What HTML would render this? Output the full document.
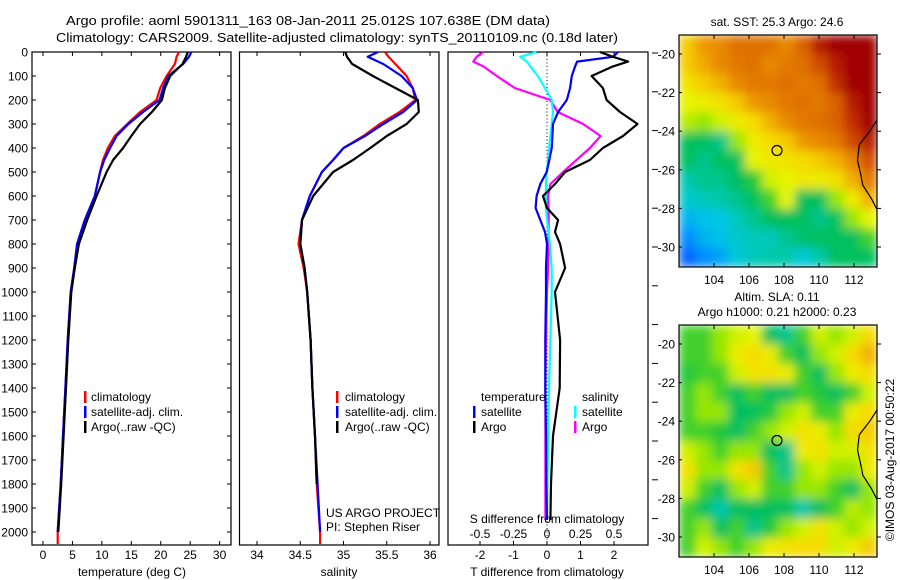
<!DOCTYPE html>
<html><head><meta charset="utf-8"><style>
body{margin:0;background:#fff}
svg{display:block;font-family:"Liberation Sans",Arial,sans-serif}
text{fill:#000}
</style></head><body>
<svg id="fig" width="900" height="580" viewBox="0 0 900 580" xmlns="http://www.w3.org/2000/svg">
<defs>
<filter id="blur" x="-5%" y="-5%" width="110%" height="110%"><feGaussianBlur stdDeviation="5" edgeMode="duplicate"/></filter>
<clipPath id="clip1"><rect x="679" y="35" width="198" height="232"/></clipPath>
<clipPath id="clip2"><rect x="679" y="325" width="198" height="232"/></clipPath>
</defs>
<rect width="900" height="580" fill="#fff"/>
<text x="308" y="25" font-size="13" text-anchor="middle" textLength="484" lengthAdjust="spacingAndGlyphs">Argo profile: aoml 5901311_163 08-Jan-2011 25.012S 107.638E (DM data)</text>
<text x="337" y="42" font-size="13" text-anchor="middle" textLength="562" lengthAdjust="spacingAndGlyphs">Climatology: CARS2009. Satellite-adjusted climatology: synTS_20110109.nc (0.18d later)</text>
<g id="g"></g>
</svg>
<script>
// ---- profile data ----
const depths = [0,20,50,100,150,200,250,300,350,400,450,500,600,700,800,900,1000,1200,1400,1600,1800,2000,2050];
const tempClim = [23.1,22.7,22.4,21.0,19.9,19.3,16.5,14.3,12.2,11.0,10.2,9.7,8.8,7.1,5.8,5.3,4.7,4.2,3.8,3.4,3.0,2.5,2.5];
const tempSat  = [25.2,24.8,23.8,21.3,20.4,19.8,17.0,14.5,12.5,11.4,10.4,9.7,8.8,7.1,5.8,5.3,4.7,4.2,3.8,3.4,3.0,2.5,null];
const tempArgo = [24.6,24.3,23.7,21.6,20.7,20.2,18.5,16.5,15.0,13.6,11.9,10.8,9.1,7.5,6.1,5.4,4.8,4.3,3.9,3.5,3.1,2.6,null];
const salClim = [35.48,35.52,35.6,35.73,35.8,35.83,35.65,35.42,35.23,35.0,34.88,34.75,34.61,34.52,34.48,34.54,34.58,34.62,34.64,34.67,34.69,34.73,34.73];
const salSat  = [35.4,35.28,35.46,35.67,35.8,35.85,35.69,35.46,35.25,35.0,34.88,34.75,34.61,34.52,34.5,34.55,34.58,34.62,34.64,34.67,34.7,34.73,null];
const salArgo = [35.02,35.04,35.1,35.34,35.6,35.86,35.87,35.73,35.5,35.31,35.11,34.88,34.65,34.52,34.5,34.55,34.58,34.62,34.64,34.67,34.69,null,null];
const diffDepths = [0,20,40,60,100,150,200,250,300,350,400,450,500,550,600,650,700,750,800,900,1000,1200,1400,1600,1800,1950];
const tdSat  = [2.12,1.97,0.9,0.84,0.74,0.69,0.59,0.33,0.18,0.16,0.14,0.07,-0.01,-0.2,-0.31,-0.34,-0.2,-0.06,0,-0.03,-0.03,-0.05,-0.05,-0.03,-0.02,0];
const tdArgo = [1.58,1.97,2.42,1.97,1.33,1.67,1.78,2.18,2.7,2.27,1.67,1.28,0.54,0.24,-0.12,0,0.33,0.24,0.39,0.54,0.24,0.39,0.38,0.18,0.12,0.1];
const sdArgo = [-0.475,-0.525,-0.55,-0.475,-0.375,-0.24,0.025,0.08,0.27,0.4,0.32,0.22,0.12,0.025,0.008,0.012,0.012,0.012,0.012,0.008,0,-0.008,-0.012,-0.012,-0.012,-0.012];
const sdSat  = [-0.078,-0.2,-0.15,-0.125,-0.068,-0.015,0.035,0.045,0.035,0.025,0.015,0.008,-0.003,-0.008,-0.008,-0.008,0,0.012,0.022,0.035,0.035,0.025,0.015,0.008,0.003,0];
const depthTicks = [0,100,200,300,400,500,600,700,800,900,1000,1100,1200,1300,1400,1500,1600,1700,1800,1900,2000];
const tempTicks = [0,5,10,15,20,25,30];
const salTicks = [34,34.5,35,35.5,36];
const tdTicks = [-2,-1,0,1,2];
const sdTicks = [-0.5,-0.25,0,0.25,0.5];
const sdTickLabels = ["-0.5","-0.25","0","0.25","0.5"];
// ---- map data (colour index 0..1, 12 x 12 cells, lat -19..-31, lon 102.2..113.4) ----
const sstGrid = [
[0.72,0.78,0.8,0.83,0.83,0.83,0.8,0.85,0.95,1,1,1],
[0.72,0.76,0.8,0.82,0.83,0.8,0.82,0.83,0.88,0.95,1,1],
[0.68,0.72,0.75,0.8,0.82,0.82,0.83,0.82,0.83,0.92,1,1],
[0.62,0.65,0.68,0.72,0.78,0.8,0.82,0.83,0.82,0.85,0.95,1],
[0.58,0.55,0.6,0.65,0.7,0.75,0.8,0.82,0.83,0.85,0.92,1],
[0.45,0.45,0.42,0.55,0.65,0.7,0.72,0.78,0.8,0.82,0.88,0.95],
[0.45,0.42,0.45,0.45,0.62,0.66,0.68,0.7,0.72,0.75,0.8,0.88],
[0.4,0.42,0.42,0.45,0.48,0.6,0.62,0.66,0.65,0.68,0.75,0.82],
[0.36,0.38,0.4,0.42,0.45,0.5,0.62,0.45,0.45,0.55,0.65,0.75],
[0.3,0.32,0.33,0.38,0.42,0.45,0.45,0.45,0.42,0.45,0.55,0.62],
[0.25,0.3,0.32,0.36,0.38,0.38,0.42,0.44,0.45,0.45,0.45,0.5],
[0.2,0.25,0.28,0.35,0.38,0.4,0.4,0.35,0.4,0.45,0.45,0.45]];
const slaGrid = [
[0.5,0.5,0.55,0.6,0.62,0.45,0.42,0.5,0.6,0.55,0.6,0.7],
[0.5,0.5,0.55,0.65,0.7,0.65,0.5,0.45,0.55,0.6,0.7,0.75],
[0.48,0.5,0.5,0.6,0.68,0.68,0.65,0.5,0.45,0.55,0.65,0.7],
[0.5,0.55,0.5,0.45,0.5,0.45,0.45,0.5,0.48,0.45,0.5,0.6],
[0.5,0.55,0.55,0.45,0.45,0.48,0.55,0.6,0.5,0.5,0.65,0.7],
[0.5,0.5,0.48,0.45,0.5,0.55,0.6,0.68,0.65,0.55,0.7,0.72],
[0.6,0.55,0.5,0.55,0.55,0.45,0.42,0.65,0.68,0.6,0.6,0.68],
[0.68,0.55,0.55,0.68,0.72,0.5,0.42,0.55,0.6,0.55,0.55,0.65],
[0.6,0.5,0.45,0.55,0.6,0.5,0.5,0.55,0.55,0.5,0.45,0.55],
[0.5,0.45,0.4,0.45,0.45,0.45,0.45,0.4,0.45,0.5,0.58,0.55],
[0.5,0.55,0.45,0.5,0.42,0.48,0.55,0.6,0.68,0.6,0.55,0.6],
[0.5,0.6,0.55,0.5,0.55,0.65,0.68,0.7,0.7,0.6,0.65,0.72]];
const lonTicks = [104,106,108,110,112];
const latTicks = [20,22,24,26,28,30];
const coastLon = [113.4,112.9,112.3,112.2,112.4,112.5,113.0,113.4];
const coastLat = [23.3,24.0,24.7,25.5,26.3,26.8,27.5,28.2];
const argoLon = 107.6, argoLat = 25.0;

const NS = "http://www.w3.org/2000/svg";
const G = document.getElementById('g');
function mk(tag, attrs, parent){ const e=document.createElementNS(NS,tag); for(const k in attrs) e.setAttribute(k,attrs[k]); (parent||G).appendChild(e); return e; }
function txt(s,x,y,size,anchor,parent){ const t=mk('text',{x:x,y:y,'font-size':size,'text-anchor':anchor||'start'},parent); t.textContent=s; return t; }

const Y0=52, PXM=0.24, BOT=545, TOP=52;
const yD = d => Y0 + d*PXM;
const xT = v => 43 + v*5.887;
const xS = v => 257 + (v-34)*86.5;
const xTD = v => 547 + v*33.5;
const xSD = v => 547 + v*134;

function panel(name,x1,x2){
  const r = mk('rect',{x:x1,y:TOP,width:x2-x1,height:BOT-TOP,fill:'none',stroke:'#000','stroke-width':1.2});
  
  
}
function line(name,xs,ds,vals,fx,col){
  let d='';
  vals.forEach((v,i)=>{ if(v===null) return; d += (d?'L':'M') + fx(v).toFixed(1)+','+yD(ds[i]).toFixed(1); });
  const p = mk('path',{d:d,fill:'none',stroke:col,'stroke-width':2.2,'stroke-linejoin':'round'});
  
  
}
panel('temperature-panel',32,231);
panel('salinity-panel',239.5,439);
panel('difference-panel',448,648);

depthTicks.forEach(d=>{
  const y=yD(d);
  mk('line',{x1:32,y1:y,x2:36,y2:y,stroke:'#000'});
  mk('line',{x1:227,y1:y,x2:231,y2:y,stroke:'#000'});
  const t=txt(String(d),28,y+4.5,12,'end');
  
  
});
for(let i=0;i<13;i++){ const y=53+i*38.8; if(y<BOT) mk('line',{x1:652,y1:y,x2:658,y2:y,stroke:'#000'}); }

function xticks(ticks,labels,fx,ylab){
  ticks.forEach((v,i)=>{
    const x=fx(v);
    mk('line',{x1:x,y1:TOP,x2:x,y2:TOP+4,stroke:'#000'});
    mk('line',{x1:x,y1:BOT,x2:x,y2:BOT-4,stroke:'#000'});
    const t=txt(labels[i],x,ylab,12,'middle');
    
    
  });
}
xticks(tempTicks,tempTicks.map(String),xT,559);
xticks(salTicks,salTicks.map(String),xS,559);
xticks(tdTicks,tdTicks.map(String),xTD,559);
sdTicks.forEach((v,i)=>{ const t=txt(sdTickLabels[i],xSD(v),538,12,'middle');   });

mk('line',{x1:547,y1:TOP,x2:547,y2:BOT,stroke:'#000','stroke-dasharray':'1,2.5'});

line('temp-climatology-line',0,depths,tempClim,xT,'#f00');
line('temp-satellite-line',0,depths,tempSat,xT,'#00f');
line('temp-argo-line',0,depths,tempArgo,xT,'#000');
line('sal-climatology-line',0,depths,salClim,xS,'#f00');
line('sal-satellite-line',0,depths,salSat,xS,'#00f');
line('sal-argo-line',0,depths,salArgo,xS,'#000');
line('s-diff-argo-line',0,diffDepths,sdArgo,xSD,'#f0f');
line('s-diff-satellite-line',0,diffDepths,sdSat,xSD,'#0ff');
line('t-diff-satellite-line',0,diffDepths,tdSat,xTD,'#00f');
line('t-diff-argo-line',0,diffDepths,tdArgo,xTD,'#000');

[['temperature (deg C)',132],['salinity',339],['T difference from climatology',547]].forEach(a=>{
  const t=txt(a[0],a[1],576,12,'middle');  
});
const sdt=txt('S difference from climatology',547,523,12,'middle');
 

function legend(bx,tx,y,col,label){
  mk('rect',{x:bx-1,y:y-10,width:2.5,height:12,fill:col});
  const t=txt(label,tx,y,12,'start');
  
  
}
[[401,'#f00','climatology'],[416,'#00f','satellite-adj. clim.'],[431,'#000','Argo(..raw -QC)']].forEach(r=>{
  legend(85,91,r[0],r[1],r[2]); legend(337,345,r[0],r[1],r[2]);
});
txt('temperature',481,401,12,'start');
txt('salinity',582,401,12,'start');
legend(474,481,416,'#00f','satellite'); legend(474,481,431,'#000','Argo');
legend(575,582,416,'#0ff','satellite'); legend(575,582,431,'#f0f','Argo');
const us=txt('US ARGO PROJECT',326,517,12,'start');  
const pi=txt('PI: Stephen Riser',326,531,12,'start');  

const colStops=[[0,[0,0,160]],[0.15,[0,60,255]],[0.25,[0,140,255]],[0.33,[0,200,230]],[0.4,[0,200,170]],[0.46,[0,190,80]],[0.55,[150,230,0]],[0.62,[230,245,0]],[0.7,[245,220,0]],[0.77,[240,160,0]],[0.86,[215,90,0]],[0.93,[190,40,0]],[1,[160,0,0]]];
function cmap(v){
  for(let i=1;i<colStops.length;i++){ if(v<=colStops[i][0]){ const a=colStops[i-1],b=colStops[i],f=(v-a[0])/(b[0]-a[0]); const c=a[1].map((q,k)=>Math.round(q+(b[1][k]-q)*f)); return 'rgb('+c.join(',')+')'; } }
  return 'rgb(160,0,0)';
}
function drawMap(name,grid,top,titles,clipId){
  const L=679,R=877,T=top,B=top+232;
  const lonX = lon => 714 + (lon-104)*17.5;
  const latY = lat => T+19 + (lat-20)*19.3;
  const g=mk('g',{});
  
  
  const clipG=mk('g',{'clip-path':'url(#'+clipId+')'},g);
  const cells=mk('g',{filter:'url(#blur)'},clipG);
  const nr=grid.length, nc=grid[0].length, cw=(R-L)/nc, ch=(B-T)/nr;
  grid.forEach((row,i)=>row.forEach((v,j)=>{
    const c=mk('rect',{x:(L+j*cw).toFixed(2),y:(T+i*ch).toFixed(2),width:(cw+0.6).toFixed(2),height:(ch+0.6).toFixed(2),fill:cmap(v)},cells);
    
    
  }));
  let d=''; coastLon.forEach((lo,i)=>{ d+=(i?'L':'M')+lonX(lo).toFixed(1)+','+latY(coastLat[i]).toFixed(1); });
  mk('path',{d:d,fill:'none',stroke:'#000','stroke-width':1.2},clipG);
  mk('rect',{x:L,y:T,width:R-L,height:B-T,fill:'none',stroke:'#000','stroke-width':1.2},g);
  lonTicks.forEach(lo=>{ const x=lonX(lo); mk('line',{x1:x,y1:T,x2:x,y2:T+4,stroke:'#000'},g); mk('line',{x1:x,y1:B,x2:x,y2:B-4,stroke:'#000'},g); txt(String(lo),x,B+17,12,'middle',g); });
  latTicks.forEach(la=>{ const y=latY(la); mk('line',{x1:R,y1:y,x2:R+4,y2:y,stroke:'#000'},g); mk('line',{x1:L,y1:y,x2:L+3,y2:y,stroke:'#000'},g); txt('-'+la,675,y+4.5,12,'end',g); });
  const circ=mk('circle',{cx:lonX(argoLon),cy:latY(argoLat),r:5,fill:'none',stroke:'#000','stroke-width':1.2},g);
  
  
  titles.forEach(t=>{ const e=txt(t[0],777,t[1],12,'middle',g);   });
}
drawMap('sst-map',sstGrid,35,[['sat. SST: 25.3 Argo: 24.6',26]],'clip1');
drawMap('sla-map',slaGrid,325,[['Altim. SLA: 0.11',301],['Argo h1000: 0.21 h2000: 0.23',316]],'clip2');
const cr=txt('©IMOS 03-Aug-2017 00:50:22',0,0,12,'middle');
cr.setAttribute('transform','translate(894,460) rotate(-90)');


</script>
</body></html>
